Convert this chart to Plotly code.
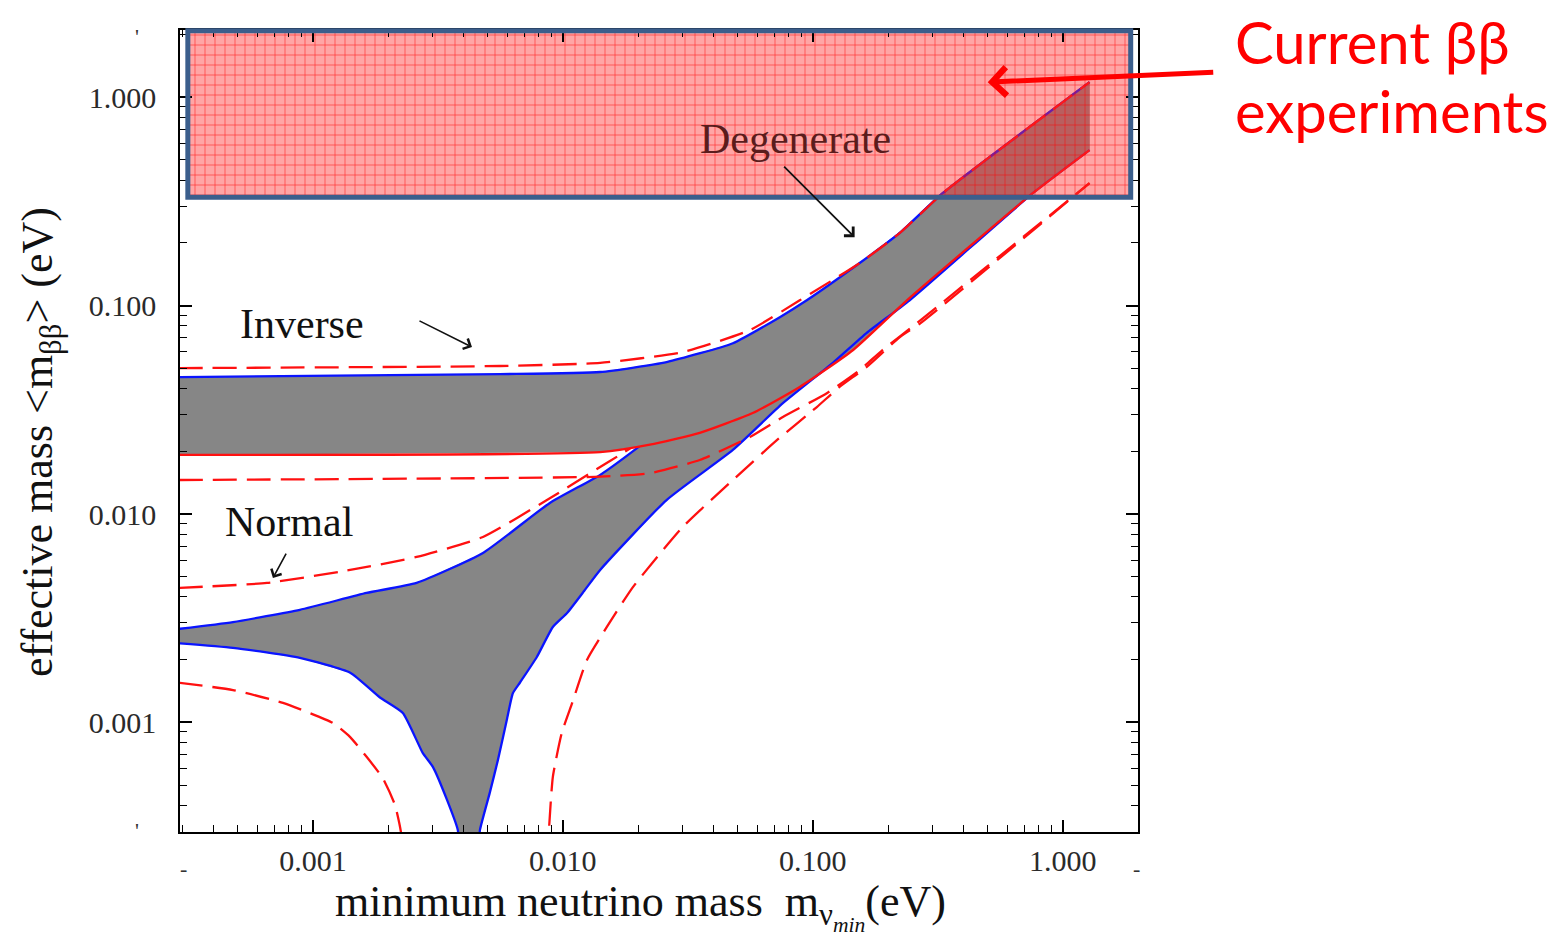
import math
import plotly.graph_objects as go

# ---------------- data (eV) ----------------
X_RANGE = [0.000294, 2.0]          # minimum neutrino mass axis extent
Y_RANGE = [0.000298, 2.1]          # effective mass axis extent

X_TICKS = [0.001, 0.01, 0.1, 1.0]
X_TICKTEXT = ["0.001", "0.010", "0.100", "1.000"]
Y_TICKS = [0.001, 0.01, 0.1, 1.0]
Y_TICKTEXT = ["0.001", "0.010", "0.100", "1.000"]

# Inverted hierarchy band (upper = blue, lower = red solid)
IH_UP_M = [0.00029, 0.0056, 0.0141, 0.026, 0.0479, 0.0738, 0.0946, 0.154, 0.223, 0.331, 1.28]
IH_UP_V = [0.0454, 0.0469, 0.048, 0.0536, 0.066, 0.088, 0.106, 0.16, 0.223, 0.346, 1.18]
IH_LO_M = [0.00029, 0.0141, 0.0223, 0.0353, 0.0575, 0.0887, 0.145, 0.238, 0.759, 1.28]
IH_LO_V = [0.0192, 0.0198, 0.0215, 0.0245, 0.0305, 0.0407, 0.0612, 0.106, 0.346, 0.557]

# Normal hierarchy band
NH_UP_M = [0.00029, 0.000479, 0.000887, 0.00164, 0.0026, 0.00479, 0.00887, 0.0141, 0.0198,
           0.0353, 0.0887, 0.154, 0.223, 0.331, 1.28]
NH_UP_V = [0.00281, 0.00303, 0.00347, 0.00418, 0.00467, 0.0065, 0.0113, 0.0154, 0.0207,
           0.036, 0.092, 0.158, 0.223, 0.346, 1.18]
NH_LO_M = [0.00029, 0.000479, 0.000887, 0.00141, 0.00185, 0.00229, 0.00275, 0.00302, 0.00344,
           0.0038, 0.00387, 0.00457, 0.00466, 0.0051, 0.0055, 0.00597, 0.00631, 0.00673,
           0.00787, 0.00912, 0.0104, 0.012, 0.0141, 0.026, 0.0479, 0.0759, 0.12, 0.164,
           0.244, 0.759, 1.28]
NH_LO_V = [0.0024, 0.00228, 0.00204, 0.00173, 0.00132, 0.00111, 0.000714, 0.000612, 0.000425,
           0.000305, 0.000244, 0.000244, 0.000305, 0.000459, 0.000661, 0.00103, 0.00138, 0.00155,
           0.00206, 0.00287, 0.00335, 0.00418, 0.00539, 0.01167, 0.0203, 0.034, 0.053, 0.0738,
           0.106, 0.346, 0.557]

# 3-sigma (dashed) curves
IH_UP_DASH_M = [0.00029, 0.0056, 0.0141, 0.0302, 0.056, 0.0887, 0.154, 0.223, 0.331, 1.28]
IH_UP_DASH_V = [0.0501, 0.0513, 0.0531, 0.0598, 0.0763, 0.106, 0.16, 0.223, 0.346, 1.18]
IH_LO_DASH_M = [0.00029, 0.0141, 0.0223, 0.0353, 0.056, 0.0759, 0.1138, 0.154, 0.19, 0.261, 1.28]
IH_LO_DASH_V = [0.01456, 0.0151, 0.0157, 0.01816, 0.0234, 0.0292, 0.038, 0.049, 0.0612, 0.0824, 0.387]
NH_UP_DASH_M = [0.00029, 0.000655, 0.00141, 0.0026, 0.00479, 0.00887, 0.0141, 0.0169, 0.025, 0.035]
NH_UP_DASH_V = [0.00442, 0.00467, 0.00539, 0.00622, 0.00776, 0.0119, 0.0168, 0.0192, 0.026, 0.037]
NH_LO_DASH_A_M = [0.00029, 0.000479, 0.000759, 0.0012, 0.00141, 0.00164, 0.0019, 0.00213, 0.00225, 0.00229]
NH_LO_DASH_A_V = [0.00155, 0.00143, 0.00124, 0.000995, 0.00085, 0.000684, 0.000542, 0.000402, 0.000298, 0.00022]
NH_LO_DASH_B_M = [0.00871, 0.00879, 0.00912, 0.0099, 0.0109, 0.0125, 0.015, 0.0191, 0.0302, 0.0479,
                  0.0718, 0.1038, 0.128, 0.164, 0.223, 0.27, 1.28]
NH_LO_DASH_B_V = [0.00022, 0.000298, 0.000548, 0.00089, 0.00124, 0.002, 0.00287, 0.00447, 0.00867,
                  0.01456, 0.0226, 0.0326, 0.0407, 0.0507, 0.0706, 0.0824, 0.387]

# current double-beta experimental region
BOX_M = [0.000316, 1.87]
BOX_V = [0.331, 2.1]

# annotation arrow heads (data coords)
INVERSE_HEAD = (0.00433, 0.0632)
NORMAL_HEAD = (0.000692, 0.00493)
DEGEN_HEAD = (0.147, 0.213)
BOX_ARROW_HEAD = (0.501, 1.18)

# ---------------- styling ----------------
BODY = 8                      # default html body margin
W, H = 1557, 935
ML, MR, MT, MB = 172, 427, 22, 111
PW, PH = W - ML - MR, H - MT - MB
SERIF = "Liberation Serif"
GRAY = "#868686"
BLUE = "#0a14ff"
RED = "#ff1010"
DASH = "24px,10px"
SMOOTH = 0.5

XL = [math.log10(v) for v in X_RANGE]
YL = [math.log10(v) for v in Y_RANGE]


def px_x(p):   # screen pixel -> paper (layout text placement)
    return (p - BODY - ML) / PW


def px_y(p):
    return (BODY + MT + PH - p) / PH


def data_px(v, rng):  # data -> paper fraction
    return (math.log10(v) - rng[0]) / (rng[1] - rng[0])


fig = go.Figure()


def band(xu, yu, xl, yl):
    return go.Scatter(x=list(xu) + list(xl)[::-1], y=list(yu) + list(yl)[::-1],
                      fill="toself", fillcolor=GRAY, mode="none",
                      hoverinfo="skip", showlegend=False)


def line(x, y, color, dash=None, width=2.3):
    return go.Scatter(x=x, y=y, mode="lines",
                      line=dict(color=color, width=width, dash=dash,
                                shape="spline", smoothing=SMOOTH),
                      hoverinfo="skip", showlegend=False)


# normal band first, then curves that get hidden by the inverted band
fig.add_trace(band(NH_UP_M, NH_UP_V, NH_LO_M, NH_LO_V))
fig.add_trace(line(NH_UP_M, NH_UP_V, BLUE))
fig.add_trace(line(NH_UP_DASH_M, NH_UP_DASH_V, RED, DASH))
fig.add_trace(band(IH_UP_M, IH_UP_V, IH_LO_M, IH_LO_V))
fig.add_trace(line(IH_UP_M, IH_UP_V, BLUE))
fig.add_trace(line(NH_LO_M, NH_LO_V, BLUE))
fig.add_trace(line(IH_LO_M, IH_LO_V, RED))
fig.add_trace(line(IH_UP_DASH_M, IH_UP_DASH_V, RED, DASH))
fig.add_trace(line(IH_LO_DASH_M, IH_LO_DASH_V, RED, DASH))
fig.add_trace(line(NH_LO_DASH_A_M, NH_LO_DASH_A_V, RED, DASH))
fig.add_trace(line(NH_LO_DASH_B_M, NH_LO_DASH_B_V, RED, DASH))

# experimental region (semi-transparent red grid)
fig.add_trace(go.Scatter(
    x=[BOX_M[0], BOX_M[1], BOX_M[1], BOX_M[0], BOX_M[0]],
    y=[BOX_V[0], BOX_V[0], BOX_V[1], BOX_V[1], BOX_V[0]],
    fill="toself", mode="none", fillcolor="rgba(255,40,40,0.42)",
    fillpattern=dict(shape="+", size=10, solidity=0.12, fgcolor="#ff0000",
                     fgopacity=0.75, bgcolor="rgba(255,40,40,0.42)"),
    hoverinfo="skip", showlegend=False))

fig.add_shape(type="rect", xref="paper", yref="paper",
              x0=data_px(BOX_M[0], XL), x1=data_px(BOX_M[1], XL),
              y0=data_px(BOX_V[0], YL), y1=data_px(BOX_V[1], YL) - 0.001,
              line=dict(color="#3b5e8c", width=5), fillcolor="rgba(0,0,0,0)")

minor_vals = [k * 10.0 ** e for e in range(-4, 1) for k in range(2, 10)]

axis_common = dict(type="log", showline=True, linecolor="black", linewidth=1.6,
                   mirror="allticks", ticks="inside", ticklen=12, tickwidth=1.5,
                   tickcolor="black", showgrid=False, zeroline=False,
                   tickfont=dict(family=SERIF, size=30, color="#2a2a2a"),
                   tickmode="array",
                   minor=dict(ticks="inside", ticklen=7, tickwidth=1.3, tickcolor="black",
                              tickmode="array", tickvals=minor_vals, showgrid=False))

fig.update_layout(
    width=W, height=H, margin=dict(l=ML, r=MR, t=MT, b=MB),
    paper_bgcolor="white", plot_bgcolor="white",
    xaxis=dict(range=XL, tickvals=X_TICKS, ticktext=X_TICKTEXT,
               ticklabelstandoff=1, **axis_common),
    yaxis=dict(range=YL, tickvals=Y_TICKS, ticktext=Y_TICKTEXT,
               ticklabelstandoff=16, **axis_common),
)


def label(px, py, text, size, color="#111", family=SERIF, **kw):
    d = dict(xref="paper", yref="paper", x=px_x(px), y=px_y(py), showarrow=False,
             text=text, font=dict(family=family, size=size, color=color),
             xanchor="center", yanchor="middle")
    d.update(kw)
    return d


def arrow(head, ax, ay, width, color, size):
    return dict(x=math.log10(head[0]), y=math.log10(head[1]), xref="x", yref="y", text="",
                showarrow=True, ax=ax, ay=ay, arrowhead=4, arrowsize=size,
                arrowwidth=width, arrowcolor=color, standoff=0)


ann = [
    label(640, 907, "minimum neutrino mass  m<sub>ν<sub><i>min</i></sub></sub>(eV)", 44),
    label(40, 442, "effective mass &lt;m<sub>ββ</sub>&gt; (eV)", 44, textangle=-90),
    label(302, 324, "Inverse", 42),
    label(289, 522, "Normal", 42),
    label(795, 139, "Degenerate", 42, color="#5a1c1c"),
    arrow(INVERSE_HEAD, -54, -27, 1.6, "#111", 1.4),
    arrow(NORMAL_HEAD, 14, -26, 1.6, "#111", 1.4),
    arrow(DEGEN_HEAD, -72, -72, 1.8, "#111", 1.4),
    arrow(BOX_ARROW_HEAD, 227, -10, 5, "#ff0000", 1.1),
    label(1234, 42, "Current ββ", 58, color="#ff0000", family="Lato", xanchor="left",
          borderpad=0),
    label(1234, 111, "experiments", 58, color="#ff0000", family="Lato", xanchor="left",
          borderpad=0),
]
# stray end-of-range tick marks seen on the reference
for (px, py, t) in [(137, 37, "'"), (137, 830, "'"), (183, 868, "-"), (1136, 868, "-")]:
    ann.append(label(px, py, t, 22, color="#333"))

fig.update_layout(annotations=ann)

fig.write_html("out.html", config={"displayModeBar": False})
